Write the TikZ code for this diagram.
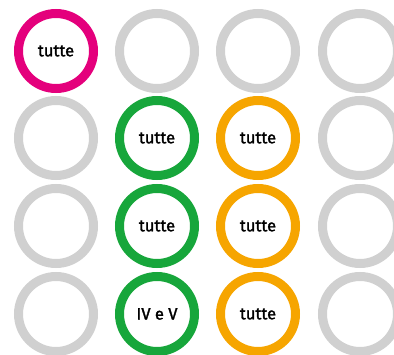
\documentclass[tikz,border=0pt]{standalone}
\usepackage{fontspec}
\setmainfont{Fira Sans}
\newfontfamily\lblfont{Fira Sans}[FakeBold=1.6]
\definecolor{cmag}{HTML}{E4007C}
\definecolor{cgreen}{HTML}{17A63B}
\definecolor{corange}{HTML}{F6A500}
\definecolor{cgray}{HTML}{D0D0D0}
\tikzset{
  ring/.style={circle, draw=#1, line width=9pt, minimum size=75pt, inner sep=0pt,
    font=\lblfont\fontsize{16.5}{16.5}\selectfont},
}
\begin{document}
\begin{tikzpicture}[x=1pt,y=-1pt]
\useasboundingbox (0,0) rectangle (394,354);
% row 1
\node[ring=cmag]   (r1c1) at (56,51) {tutte};
\node[ring=cgray]  (r1c2) at (157,51) {};
\node[ring=cgray]  (r1c3) at (258,51) {};
\node[ring=cgray]  (r1c4) at (360,51) {};
% row 2
\node[ring=cgray]  (r2c1) at (56,138) {};
\node[ring=cgreen] (r2c2) at (157,138) {tutte};
\node[ring=corange](r2c3) at (258,138) {tutte};
\node[ring=cgray]  (r2c4) at (360,138) {};
% row 3
\node[ring=cgray]  (r3c1) at (56,226) {};
\node[ring=cgreen] (r3c2) at (157,226) {tutte};
\node[ring=corange](r3c3) at (258,226) {tutte};
\node[ring=cgray]  (r3c4) at (360,226) {};
% row 4
\node[ring=cgray]  (r4c1) at (56,314) {};
\node[ring=cgreen] (r4c2) at (157,314) {IV e V};
\node[ring=corange](r4c3) at (258,314) {tutte};
\node[ring=cgray]  (r4c4) at (360,314) {};
\end{tikzpicture}
\end{document}
